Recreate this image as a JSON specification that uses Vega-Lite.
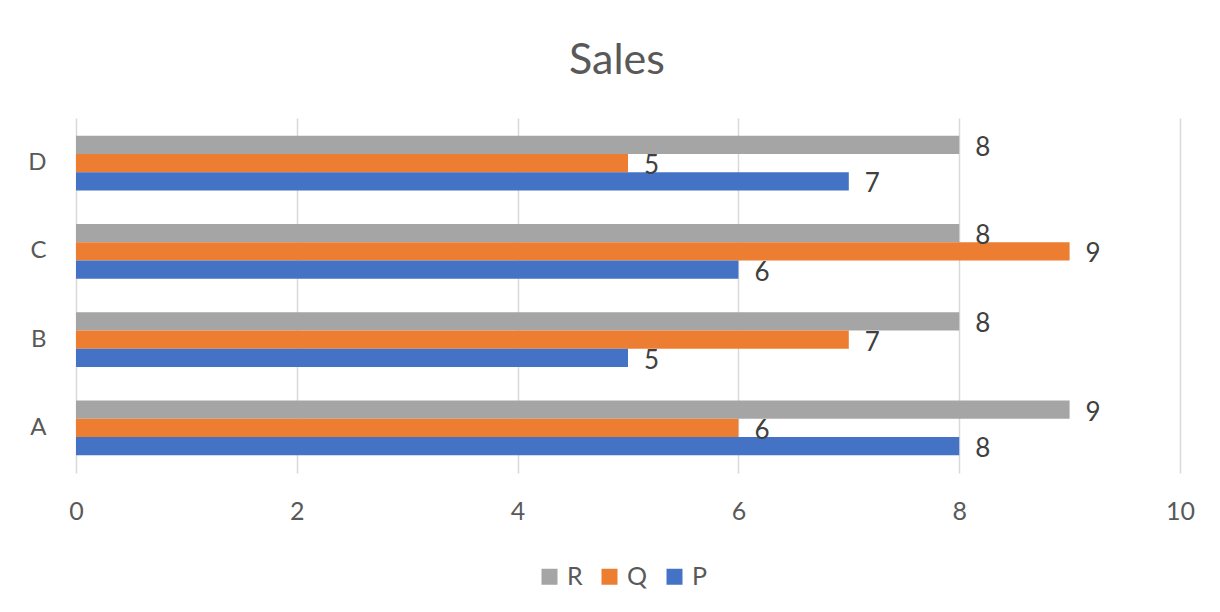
{
  "$schema": "https://vega.github.io/schema/vega-lite/v6.json",
  "width": 1104,
  "height": 355,
  "autosize": {"type": "none"},
  "padding": {"left": 76, "top": 118, "right": 40, "bottom": 139},
  "background": "#ffffff",
  "config": {"view": {"stroke": null}},
  "title": {
    "text": "Sales",
    "fontSize": 43,
    "font": "Lato",
    "fontWeight": "normal",
    "color": "#595959",
    "anchor": "middle",
    "offset": 35,
    "dx": -11
  },
  "data": {
    "values": [
      {"cat": "A", "series": "R", "value": 9},
      {"cat": "A", "series": "Q", "value": 6},
      {"cat": "A", "series": "P", "value": 8},
      {"cat": "B", "series": "R", "value": 8},
      {"cat": "B", "series": "Q", "value": 7},
      {"cat": "B", "series": "P", "value": 5},
      {"cat": "C", "series": "R", "value": 8},
      {"cat": "C", "series": "Q", "value": 9},
      {"cat": "C", "series": "P", "value": 6},
      {"cat": "D", "series": "R", "value": 8},
      {"cat": "D", "series": "Q", "value": 5},
      {"cat": "D", "series": "P", "value": 7}
    ]
  },
  "encoding": {
    "y": {
      "field": "cat",
      "type": "nominal",
      "scale": {"domain": ["D", "C", "B", "A"], "paddingInner": 0.38, "paddingOuter": 0.2},
      "axis": {
        "title": null,
        "domain": false,
        "ticks": false,
        "grid": false,
        "labelPadding": 30,
        "labelFontSize": 24,
        "labelFont": "Lato",
        "labelColor": "#595959"
      }
    },
    "yOffset": {
      "field": "series",
      "type": "nominal",
      "scale": {"domain": ["R", "Q", "P"], "paddingInner": 0, "paddingOuter": 0}
    },
    "x": {
      "field": "value",
      "type": "quantitative",
      "scale": {"domain": [0, 10], "nice": false},
      "axis": {
        "title": null,
        "values": [0, 2, 4, 6, 8, 10],
        "domain": false,
        "ticks": false,
        "grid": true,
        "gridColor": "#d9d9d9",
        "gridWidth": 1.5,
        "labelFlush": false,
        "labelPadding": 26,
        "labelFontSize": 25,
        "labelFont": "Lato",
        "labelColor": "#595959"
      }
    }
  },
  "layer": [
    {
      "mark": {"type": "bar"},
      "encoding": {
        "color": {
          "field": "series",
          "type": "nominal",
          "scale": {"domain": ["R", "Q", "P"], "range": ["#a5a5a5", "#ed7d31", "#4472c4"]},
          "legend": {
            "title": null,
            "orient": "none",
            "direction": "horizontal",
            "legendX": 461,
            "legendY": 446,
            "padding": 0,
            "symbolType": "square",
            "symbolSize": 256,
            "symbolStrokeWidth": 0,
            "labelFontSize": 25,
            "labelFont": "Lato",
            "labelColor": "#595959",
            "labelOffset": 5,
            "columnPadding": 14
          }
        }
      }
    },
    {
      "mark": {
        "type": "text",
        "align": "left",
        "baseline": "middle",
        "dx": 16,
        "dy": 3,
        "fontSize": 26,
        "font": "Lato",
        "color": "#404040"
      },
      "encoding": {
        "text": {"field": "value", "type": "quantitative"}
      }
    }
  ]
}
